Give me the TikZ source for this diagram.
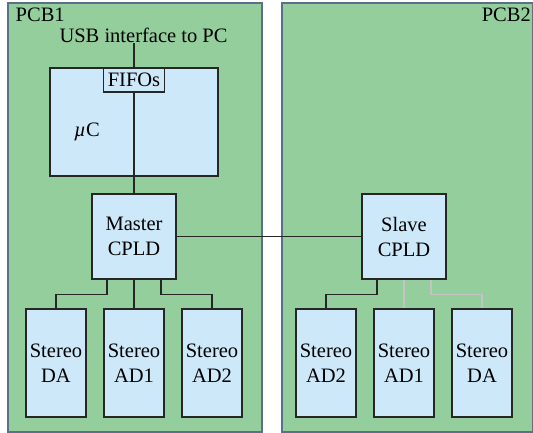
\documentclass[tikz,border=0pt]{standalone}
\usepackage{fontspec}
\setmainfont{Liberation Serif}
\usepackage{tikz}
\usetikzlibrary{positioning}
\usepackage{xcolor}
\definecolor{pcbgreen}{RGB}{148,206,156}
\definecolor{pcbedge}{RGB}{88,112,140}
\definecolor{chipblue}{RGB}{204,232,249}
\definecolor{wiregray}{RGB}{196,196,196}

\begin{document}
\begin{tikzpicture}[x=1pt,y=-1pt,
    font=\fontsize{20.5}{25}\selectfont,
    board/.style={draw=pcbedge,fill=pcbgreen,line width=1.1pt,inner sep=0pt},
    chip/.style={draw=black!85,fill=chipblue,line width=1.25pt,inner sep=0pt,align=center},
    stereobox/.style={chip,minimum width=60,minimum height=108},
    cpld/.style={chip,minimum width=84,minimum height=85},
    wire/.style={draw=black!85,line width=1.25pt},
    lightwire/.style={draw=wiregray,line width=1.25pt}]
    \useasboundingbox (0,0) rectangle (533,433);
    \node[board,minimum width=254,minimum height=429] (pcb1) at (135,217.5) {};
    \node[board,minimum width=251,minimum height=429] (pcb2) at (407.5,217.5) {};
    \node[anchor=base west,inner sep=0pt] (pcb1label) at (15.5,22) {PCB1};
    \node[anchor=base east,inner sep=0pt] (pcb2label) at (531,22) {PCB2};
    \node[anchor=base,inner sep=0pt] (usb) at (143.5,43) {USB interface to PC};

    \node[chip,minimum width=168,minimum height=108] (uc) at (134,122) {};
    \node[anchor=base west,inner sep=0pt] (uclabel) at (74,137) {\textit{µ}C};
    \node[chip,minimum width=61,minimum height=24] (fifo) at (134,80) {FIFOs};
    \node[cpld] (master) at (134,236.5) {Master\\CPLD};
    \node[cpld] (slave) at (404,236.5) {Slave\\CPLD};

    \node[stereobox] (mda) at (56,363) {Stereo\\DA};
    \node[stereobox] (mad1) at (134,363) {Stereo\\AD1};
    \node[stereobox] (mad2) at (212,363) {Stereo\\AD2};
    \node[stereobox] (sad2) at (326,363) {Stereo\\AD2};
    \node[stereobox] (sad1) at (404,363) {Stereo\\AD1};
    \node[stereobox] (sda) at (482,363) {Stereo\\DA};

    \draw[wire] (fifo.north |- usb.south) -- (fifo.north);
    \draw[wire] (fifo) -- (master);
    \draw[wire] (master) -- (slave);
    \draw[wire] ([xshift=-27pt]master.south) -- ++(0,15) -| (mda.north);
    \draw[wire] (master) -- (mad1);
    \draw[wire] ([xshift=27pt]master.south) -- ++(0,15) -| (mad2.north);
    \draw[wire] ([xshift=-27pt]slave.south) -- ++(0,15) -| (sad2.north);
    \draw[lightwire] (slave) -- (sad1);
    \draw[lightwire] ([xshift=27pt]slave.south) -- ++(0,15) -| (sda.north);
\end{tikzpicture}
\end{document}
